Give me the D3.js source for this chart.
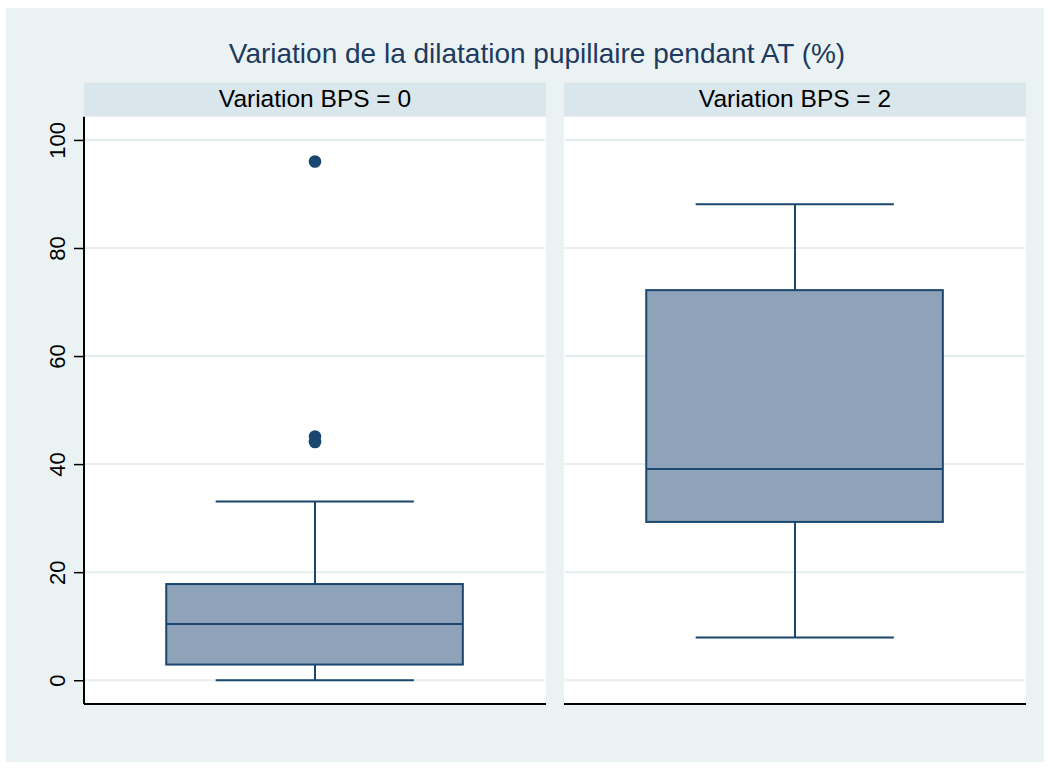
<!DOCTYPE html>
<html>
<head>
<meta charset="utf-8">
<script src="https://cdn.jsdelivr.net/npm/d3@7"></script>
<style>
  body { margin: 0; background: #ffffff; }
  text { font-family: "Liberation Sans", Arial, sans-serif; }
</style>
</head>
<body>
<svg width="1050" height="769"></svg>
<script>
// data
const panels = ["Variation BPS = 0", "Variation BPS = 2"];
const lowerWhisker = [0, 7.9];
const q1 = [2.9, 29.3];
const median = [10.4, 39.1];
const q3 = [17.8, 72.2];
const upperWhisker = [33.1, 88.1];
const outliers = [[44.1, 45.1, 96.0], []];
const yTicks = [0, 20, 40, 60, 80, 100];
const titleText = "Variation de la dilatation pupillaire pendant AT (%)";

const navy = "#1a476f";
const boxFill = "#8ea3b8";
const bg = "#eaf2f3";
const stripBg = "#d9e6eb";

const svg = d3.select("svg");

// fond extérieur
svg.append("rect")
  .attr("x", 6).attr("y", 8)
  .attr("width", 1038).attr("height", 754)
  .attr("fill", bg);

// titre
svg.append("text")
  .attr("x", 537).attr("y", 63)
  .attr("text-anchor", "middle")
  .attr("font-size", 28)
  .attr("fill", "#1e3a5f")
  .text(titleText);

const plotTop = 116.7, plotBottom = 704;
const y = d3.scaleLinear().domain([-4.4, 104.3]).range([plotBottom, plotTop]);

const panelX = d3.scaleBand().domain(panels).range([84, 1026]).paddingInner(0.0375);

panels.forEach((p, i) => {
  const x0 = panelX(p), w = panelX.bandwidth();
  const x = d3.scaleLinear().domain([0, 1]).range([x0, x0 + w]);
  const g = svg.append("g");

  // bandeau
  g.append("rect")
    .attr("x", x0).attr("y", 82.7)
    .attr("width", w).attr("height", plotTop - 82.7)
    .attr("fill", stripBg);
  g.append("text")
    .attr("x", x(0.5)).attr("y", 107)
    .attr("text-anchor", "middle")
    .attr("font-size", 24.5)
    .attr("fill", "#000")
    .text(p);

  // zone du graphe
  g.append("rect")
    .attr("x", x0).attr("y", plotTop)
    .attr("width", w).attr("height", plotBottom - plotTop)
    .attr("fill", "#fff");

  // grille
  g.selectAll("line.grid")
    .data(yTicks)
    .enter().append("line")
    .attr("class", "grid")
    .attr("x1", x0 + 1).attr("x2", x0 + w - 1)
    .attr("y1", d => y(d)).attr("y2", d => y(d))
    .attr("stroke", "#e6eef0").attr("stroke-width", 2);

  // moustaches
  const cx = x(0.5);
  g.append("line")
    .attr("x1", cx).attr("x2", cx)
    .attr("y1", y(upperWhisker[i])).attr("y2", y(q3[i]))
    .attr("stroke", navy).attr("stroke-width", 2);
  g.append("line")
    .attr("x1", cx).attr("x2", cx)
    .attr("y1", y(q1[i])).attr("y2", y(lowerWhisker[i]))
    .attr("stroke", navy).attr("stroke-width", 2);
  [upperWhisker[i], lowerWhisker[i]].forEach(v => {
    g.append("line")
      .attr("x1", x(0.285)).attr("x2", x(0.714))
      .attr("y1", y(v)).attr("y2", y(v))
      .attr("stroke", navy).attr("stroke-width", 2);
  });

  // boîte
  g.append("rect")
    .attr("x", x(0.178)).attr("y", y(q3[i]))
    .attr("width", x(0.82) - x(0.178))
    .attr("height", y(q1[i]) - y(q3[i]))
    .attr("fill", boxFill)
    .attr("stroke", navy).attr("stroke-width", 2);
  g.append("line")
    .attr("x1", x(0.178)).attr("x2", x(0.82))
    .attr("y1", y(median[i])).attr("y2", y(median[i]))
    .attr("stroke", navy).attr("stroke-width", 2);

  // valeurs extrêmes
  g.selectAll("circle")
    .data(outliers[i])
    .enter().append("circle")
    .attr("cx", cx).attr("cy", d => y(d))
    .attr("r", 6.3)
    .attr("fill", navy);

  // axe x (ligne seule)
  g.append("line")
    .attr("x1", x0).attr("x2", x0 + w)
    .attr("y1", plotBottom).attr("y2", plotBottom)
    .attr("stroke", "#000").attr("stroke-width", 2);
});

// axe y
const yAxis = d3.axisLeft(y).tickValues(yTicks).tickSize(10).tickPadding(6);
const ya = svg.append("g")
  .attr("transform", `translate(${panelX(panels[0])},0)`)
  .call(yAxis);
ya.select(".domain")
  .attr("d", `M0,${plotTop}V${plotBottom}`)
  .attr("stroke", "#000").attr("stroke-width", 2);
ya.selectAll(".tick line").attr("stroke", "#000").attr("stroke-width", 1.5);
ya.selectAll(".tick text")
  .attr("font-size", 22)
  .attr("fill", "#000")
  .attr("text-anchor", "middle")
  .attr("dy", 0)
  .attr("x", 0)
  .attr("transform", "translate(-19,0) rotate(-90)");
</script>
</body>
</html>
